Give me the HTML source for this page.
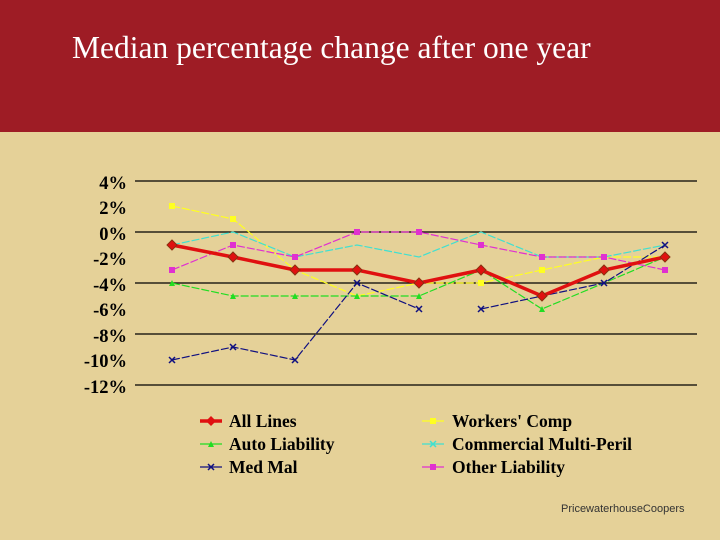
<!DOCTYPE html>
<html><head><style>
body{margin:0;width:720px;height:540px;overflow:hidden;background:#e5d198;font-family:"Liberation Serif",serif}
.hd{position:absolute;left:0;top:0;width:720px;height:132px;background:#9e1c25}
.t{position:absolute;left:72px;top:30px;color:#fff;font-size:31.5px}
.f{position:absolute;left:561px;top:503px;font:11px "Liberation Sans",sans-serif;color:#333}
</style></head><body>
<div class="hd"></div>
<div class="t">Median percentage change after one year</div>
<svg width="720" height="540" style="position:absolute;left:0;top:0" font-family="Liberation Serif" font-weight="bold">
<g stroke="#000" stroke-width="1.2">
<line x1="135" y1="181" x2="697" y2="181"/><line x1="135" y1="232" x2="697" y2="232"/><line x1="135" y1="283" x2="697" y2="283"/><line x1="135" y1="334" x2="697" y2="334"/><line x1="135" y1="385" x2="697" y2="385"/>
</g>
<g font-size="18.5" text-anchor="end" fill="#000">
<text x="127" y="189">4%</text><text x="127" y="214">2%</text><text x="127" y="240">0%</text><text x="127" y="265">-2%</text><text x="127" y="291">-4%</text><text x="127" y="316">-6%</text><text x="127" y="342">-8%</text><text x="127" y="367">-10%</text><text x="127" y="393">-12%</text>
</g>
<g fill="none" stroke-width="1.2" stroke-dasharray="8,2">
<polyline stroke="#ffff20" points="172,206 233,219 295,270 357,296 419,283 481,283 542,270 604,257 665,257"/>
<polyline stroke="#22dd22" points="172,283 233,296 295,296 357,296 419,296 481,270 542,309 604,283 665,257"/>
<polyline stroke="#40e0d0" points="172,245 233,232 295,257 357,245 419,257 481,232 542,257 604,257 665,245"/>
<polyline stroke="#e030d0" points="172,270 233,245 295,257 357,232 419,232 481,245 542,257 604,257 665,270"/>
<polyline stroke="#101080" points="172,360 233,347 295,360 357,283 419,309"/>
<polyline stroke="#101080" points="481,309 542,296 604,283 665,245"/>
</g>
<polyline fill="none" stroke="#e01010" stroke-width="3.5" points="172,245 233,257 295,270 357,270 419,283 481,270 542,296 604,270 665,257"/>
<g fill="#ffff20"><rect x="169" y="203" width="6" height="6"/><rect x="230" y="216" width="6" height="6"/><rect x="478" y="280" width="6" height="6"/><rect x="539" y="267" width="6" height="6"/><rect x="601" y="254" width="6" height="6"/></g>
<g fill="#22dd22"><path d="M172,280l3,6h-6z"/><path d="M233,293l3,6h-6z"/><path d="M295,293l3,6h-6z"/><path d="M357,293l3,6h-6z"/><path d="M419,293l3,6h-6z"/><path d="M542,306l3,6h-6z"/></g>
<g fill="#e030d0"><rect x="169" y="267" width="6" height="6"/><rect x="230" y="242" width="6" height="6"/><rect x="292" y="254" width="6" height="6"/><rect x="354" y="229" width="6" height="6"/><rect x="416" y="229" width="6" height="6"/><rect x="478" y="242" width="6" height="6"/><rect x="539" y="254" width="6" height="6"/><rect x="601" y="254" width="6" height="6"/><rect x="662" y="267" width="6" height="6"/></g>
<g stroke="#101080" stroke-width="1.5"><path d="M169,357l6,6M175,357l-6,6M230,344l6,6M236,344l-6,6M292,357l6,6M298,357l-6,6M354,280l6,6M360,280l-6,6M416,306l6,6M422,306l-6,6M478,306l6,6M484,306l-6,6M601,280l6,6M607,280l-6,6M662,242l6,6M668,242l-6,6"/></g>
<g fill="#e01010" stroke="#8a3010" stroke-width="1"><path d="M172,240l5,5-5,5-5-5z"/><path d="M233,252l5,5-5,5-5-5z"/><path d="M295,265l5,5-5,5-5-5z"/><path d="M357,265l5,5-5,5-5-5z"/><path d="M419,278l5,5-5,5-5-5z"/><path d="M481,265l5,5-5,5-5-5z"/><path d="M542,291l5,5-5,5-5-5z"/><path d="M604,265l5,5-5,5-5-5z"/><path d="M665,252l5,5-5,5-5-5z"/></g>
<g font-size="17.5" fill="#000">
<line x1="200" y1="421" x2="222" y2="421" stroke="#e01010" stroke-width="3.5"/><path d="M211,416l5,5-5,5-5-5z" fill="#e01010"/><text x="229" y="427">All Lines</text>
<line x1="200" y1="444" x2="222" y2="444" stroke="#22dd22" stroke-width="1.2"/><path d="M211,441l3,6h-6z" fill="#22dd22"/><text x="229" y="450">Auto Liability</text>
<line x1="200" y1="467" x2="222" y2="467" stroke="#101080" stroke-width="1.2"/><path d="M208,464l6,6M214,464l-6,6" stroke="#101080" stroke-width="1.5"/><text x="229" y="473">Med Mal</text>
<line x1="422" y1="421" x2="444" y2="421" stroke="#ffff20" stroke-width="1.2"/><rect x="430" y="418" width="6" height="6" fill="#ffff20"/><text x="452" y="427">Workers' Comp</text>
<line x1="422" y1="444" x2="444" y2="444" stroke="#40e0d0" stroke-width="1.2"/><path d="M430,441l6,6M436,441l-6,6" stroke="#40e0d0" stroke-width="1.5"/><text x="452" y="450">Commercial Multi-Peril</text>
<line x1="422" y1="467" x2="444" y2="467" stroke="#e030d0" stroke-width="1.2"/><rect x="430" y="464" width="6" height="6" fill="#e030d0"/><text x="452" y="473">Other Liability</text>
</g>
</svg>
<div class="f">PricewaterhouseCoopers</div>
</body></html>
